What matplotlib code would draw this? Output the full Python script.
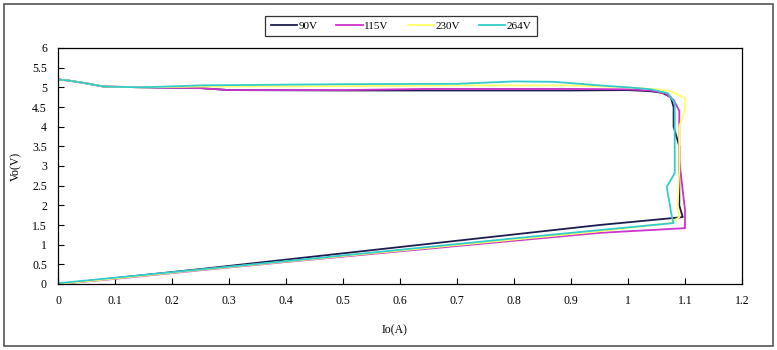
import matplotlib
matplotlib.use("Agg")
import matplotlib.pyplot as plt
from matplotlib.patches import Rectangle

# Io (A) / Vo (V) curves, traced top -> right side -> bottom
io_90 = [0, 0.02, 0.05, 0.08, 0.15, 0.25, 0.3, 0.5, 0.7, 0.9, 1.0, 1.04, 1.06,
         1.075, 1.08, 1.08, 1.09, 1.09, 1.096, 0.95, 0.8, 0.6, 0.4, 0.25, 0.1, 0]
vo_90 = [5.2, 5.17, 5.1, 5.02, 5.0, 4.98, 4.93, 4.92, 4.92, 4.92, 4.93, 4.9, 4.86,
         4.75, 4.5, 4.0, 3.5, 2.0, 1.7, 1.5, 1.26, 0.94, 0.62, 0.38, 0.15, 0]

io_115 = [0, 0.02, 0.05, 0.08, 0.15, 0.25, 0.3, 0.5, 0.65, 0.9, 1.0, 1.04, 1.065,
          1.08, 1.09, 1.09, 1.095, 1.1, 1.1, 0.95, 0.8, 0.6, 0.4, 0.25, 0.1, 0]
vo_115 = [5.2, 5.17, 5.1, 5.02, 5.0, 4.98, 4.93, 4.93, 4.96, 4.96, 4.95, 4.92, 4.85,
          4.68, 4.4, 3.15, 2.5, 1.88, 1.42, 1.3, 1.1, 0.83, 0.56, 0.35, 0.13, 0]

io_230 = [0, 0.02, 0.05, 0.08, 0.15, 0.25, 0.5, 0.7, 0.9, 1.0, 1.05, 1.075,
          1.1, 1.1, 1.09, 1.09, 1.087, 1.09, 1.075, 0.95, 0.8, 0.6, 0.4, 0.25, 0.1, 0]
vo_230 = [5.2, 5.17, 5.1, 5.02, 5.0, 5.02, 5.03, 5.05, 5.05, 5.0, 4.95, 4.9,
          4.73, 4.42, 4.0, 2.9, 1.96, 1.7, 1.55, 1.34, 1.13, 0.85, 0.57, 0.36, 0.14, 0]

io_264 = [0, 0.02, 0.05, 0.08, 0.15, 0.25, 0.5, 0.7, 0.8, 0.87, 0.95, 1.0, 1.04,
          1.07, 1.082, 1.082, 1.068, 1.077, 1.08, 0.95, 0.8, 0.6, 0.4, 0.25, 0.1, 0]
vo_264 = [5.2, 5.17, 5.1, 5.02, 5.0, 5.05, 5.08, 5.09, 5.15, 5.14, 5.05, 5.0, 4.95,
          4.85, 4.6, 2.82, 2.47, 1.7, 1.55, 1.37, 1.16, 0.87, 0.58, 0.37, 0.16, 0.02]

labels = ["90V", "115V", "230V", "264V"]
colors = ["#1c1c4e", "#cc33cc", "#ffff66", "#33cccc"]

plt.rcParams["font.family"] = ["Liberation Serif", "DejaVu Serif"]

fig = plt.figure(figsize=(7.77, 3.5), dpi=100)
ax = fig.add_axes([58 / 777, 1 - 284 / 350, (742 - 58) / 777, (284 - 48) / 350])

series = [(io_90, vo_90), (io_115, vo_115), (io_230, vo_230), (io_264, vo_264)]
for (x, y), lab, c in zip(series, labels, colors):
    ax.plot(x, y, color=c, lw=1.3, label=lab)

ax.set_xlim(0, 1.2)
ax.set_ylim(0, 6)
ax.set_xticks([i / 10 for i in range(13)])
ax.set_xticklabels(["0", "0.1", "0.2", "0.3", "0.4", "0.5", "0.6", "0.7", "0.8",
                    "0.9", "1", "1.1", "1.2"])
ax.set_yticks([i / 2 for i in range(13)])
ax.set_yticklabels(["0", "0.5", "1", "1.5", "2", "2.5", "3", "3.5", "4", "4.5",
                    "5", "5.5", "6"])
ax.tick_params(direction="in", length=4, width=0.8, labelsize=8.5, pad=8)
for s in ax.spines.values():
    s.set_linewidth(0.9)

ax.set_xlabel("Io(A)", fontsize=8.5)
ax.xaxis.set_label_coords((395 - 58) / (742 - 58), -0.17)
ax.set_ylabel("Vo(V)", fontsize=8.5)
ax.yaxis.set_label_coords(-0.052, 0.5)

leg = fig.legend(loc="center", bbox_to_anchor=(401 / 777, 1 - 26 / 350), ncol=4,
                 fontsize=8, frameon=True, fancybox=False, handlelength=2.4,
                 columnspacing=1.7, borderpad=0.5, handletextpad=0.1,
                 borderaxespad=0)
leg.get_frame().set_edgecolor("black")
leg.get_frame().set_linewidth(0.9)

# outer chart border
fig.patches.append(Rectangle((4 / 777, 4 / 350), 769 / 777, 342 / 350,
                             transform=fig.transFigure, fill=False,
                             edgecolor="#555555", lw=1.2))

fig.savefig("out.png", dpi=100)
